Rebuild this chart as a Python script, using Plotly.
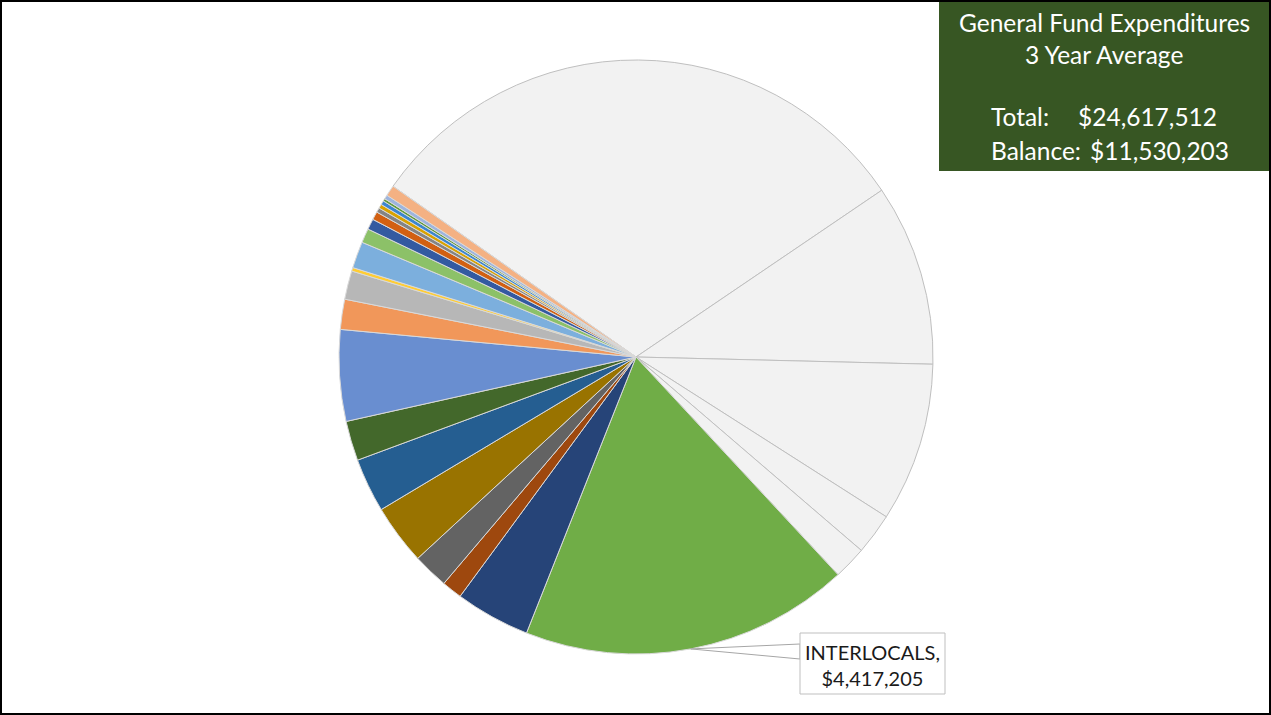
import math
import plotly.graph_objects as go

# ---- data ----
labels = [
    "Category A", "Category B", "Category C", "Category D", "Category E",
    "INTERLOCALS",
    "Category G", "Category H", "Category I", "Category J", "Category K", "Category L",
    "Category M", "Category N", "Category O", "Category P", "Category Q", "Category R",
    "Category S", "Category T", "Category U", "Category V", "Category W", "Category X",
    "Category Y", "Category Z",
]
values = [
    7583000, 2434400, 2133500, 553900, 444500,
    4417205,
    1005200, 273500, 478700, 806900, 724800, 533400,
    1224000, 403500, 382900, 47900, 355600, 191500,
    143600, 109400, 61500, 54700, 54700, 34200,
    54700, 143600,
]
colors = [
    "#F2F2F2", "#F2F2F2", "#F2F2F2", "#F2F2F2", "#F2F2F2",
    "#70AD47",
    "#264478", "#9E480E", "#636363", "#997300", "#255E91", "#43682B",
    "#698ED0", "#F1975A", "#B7B7B7", "#FFCD33", "#7CAFDD", "#8CC168",
    "#335AA1", "#D26012", "#848484", "#D9A300", "#3A86D0", "#5F9B3C",
    "#9DB4DE", "#F4B183",
]
line_colors = ["#BFBFBF"] * 5 + ["#D9D9D9"] * (len(values) - 5)

title_lines = ["General Fund Expenditures", "3 Year Average"]
total_text = "$24,617,512"
balance_text = "$11,530,203"
callout_label = "INTERLOCALS"

W, H = 1271, 715
CX, CY, R = 636, 357, 297
ROTATION = 305.1

def px(x):
    return x / W

def py(y):
    return 1 - y / H

fig = go.Figure(go.Pie(
    labels=labels,
    values=values,
    sort=False,
    direction="clockwise",
    rotation=ROTATION,
    textinfo="none",
    hoverinfo="label+value+percent",
    marker=dict(colors=colors, line=dict(color=line_colors, width=1)),
    domain=dict(x=[px(CX - R), px(CX + R)], y=[py(CY + R), py(CY - R)]),
    showlegend=False,
))

# leader for the INTERLOCALS label: compute mid-angle of that slice
idx = labels.index(callout_label)
total = sum(values)
cum = sum(values[:idx])
mid_deg = ROTATION + (cum + values[idx] / 2) / total * 360
a = math.radians(mid_deg)
tip_x = CX + R * math.sin(a)
tip_y = CY - R * math.cos(a)

box_l, box_r, box_t, box_b = 800, 945, 633, 694
path = (f"M {px(tip_x)},{py(tip_y)} L {px(box_l)},{py(644)} "
        f"L {px(box_l)},{py(659)} Z")

shapes = [
    dict(type="path", path=path, xref="paper", yref="paper",
         fillcolor="white", line=dict(color="#A6A6A6", width=1), layer="above"),
    dict(type="rect", xref="paper", yref="paper",
         x0=px(box_l), x1=px(box_r), y0=py(box_b), y1=py(box_t),
         fillcolor="white", line=dict(color="#BFBFBF", width=1), layer="above"),
    # title box
    dict(type="rect", xref="paper", yref="paper",
         x0=px(939), x1=px(1269), y0=py(171), y1=py(1),
         fillcolor="#375623", line=dict(width=0), layer="above"),
    # outer frame
    dict(type="rect", xref="paper", yref="paper",
         x0=px(1), x1=px(1270), y0=py(714), y1=py(1),
         line=dict(color="black", width=2), layer="above"),
]

FONT = "Lato, Open Sans, sans-serif"
FS = 24.5
ann = []
val_str = f"${values[idx]:,.0f}"
ann.append(dict(
    x=px((box_l + box_r) / 2), y=py((box_t + box_b) / 2 + 1), xref="paper", yref="paper",
    text=f"{callout_label},<br>{val_str}", showarrow=False,
    font=dict(family=FONT, size=20, color="#1A1A1A"), align="center",
    xanchor="center", yanchor="middle",
))
bx = (939 + 1269) / 2
for txt, yy in [(title_lines[0], 22), (title_lines[1], 55)]:
    ann.append(dict(x=px(bx), y=py(yy), xref="paper", yref="paper", text=txt,
                    showarrow=False, font=dict(family=FONT, size=FS, color="white"),
                    xanchor="center", yanchor="middle"))
ann.append(dict(x=px(989), y=py(117), xref="paper", yref="paper", text="Total:",
                showarrow=False, font=dict(family=FONT, size=FS, color="white"),
                xanchor="left", yanchor="middle"))
ann.append(dict(x=px(1219), y=py(117), xref="paper", yref="paper", text=total_text,
                showarrow=False, font=dict(family=FONT, size=FS, color="white"),
                xanchor="right", yanchor="middle"))
ann.append(dict(x=px(989), y=py(150), xref="paper", yref="paper", text="Balance:",
                showarrow=False, font=dict(family=FONT, size=FS, color="white"),
                xanchor="left", yanchor="middle"))
ann.append(dict(x=px(1231), y=py(150), xref="paper", yref="paper", text=balance_text,
                showarrow=False, font=dict(family=FONT, size=FS, color="white"),
                xanchor="right", yanchor="middle"))

fig.update_layout(
    width=W, height=H,
    margin=dict(l=0, r=0, t=0, b=0),
    paper_bgcolor="white",
    plot_bgcolor="white",
    shapes=shapes,
    annotations=ann,
)

fig.write_html("out.html", include_plotlyjs=True, config={"displayModeBar": False})
